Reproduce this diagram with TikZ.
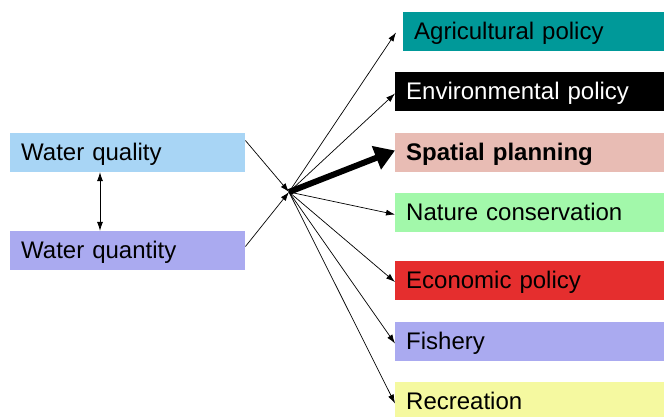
\documentclass[tikz,border=0pt]{standalone}
\usepackage{fontspec}
\setmainfont{Liberation Sans}
\usetikzlibrary{arrows.meta}

\definecolor{azulclaro}{RGB}{168,213,245}
\definecolor{lavanda}{RGB}{170,170,240}
\definecolor{verdeazul}{RGB}{0,153,153}
\definecolor{rosado}{RGB}{232,188,180}
\definecolor{verdeclaro}{RGB}{162,248,170}
\definecolor{rojo}{RGB}{229,46,46}
\definecolor{amarillo}{RGB}{245,249,160}

\tikzset{
  caja/.style={anchor=west, minimum height=39pt, inner xsep=11pt, inner ysep=0pt,
    text width=#1, align=left, text height=21pt, text depth=5pt,
    font=\fontsize{24}{28}\selectfont},
  flecha/.style={-{Latex[length=9pt,width=6pt]}, line width=0.7pt},
  doble/.style={{Latex[length=9pt,width=6pt]}-{Latex[length=9pt,width=6pt]}, line width=0.7pt}
}

\begin{document}
\begin{tikzpicture}[x=1pt,y=-1pt]

                    \useasboundingbox (0,0) rectangle (664,416);

                    % Cajas de la izquierda
                    \node[caja=213pt, fill=azulclaro] (calidad) at (10,152.5) {Water quality};
                    \node[caja=213pt, fill=lavanda] (cantidad) at (10,250.5) {Water quantity};

                    % Cajas de la derecha
                    \node[caja=239pt, fill=verdeazul] (agri) at (403,31.5) {Agricultural policy};
                    \node[caja=247pt, fill=black, text=white] (amb) at (395,91.5) {Environmental policy};
                    \node[caja=247pt, fill=rosado, font=\fontsize{24}{28}\selectfont\bfseries] (espacial) at (395,152.5) {Spatial planning};
                    \node[caja=247pt, fill=verdeclaro] (naturaleza) at (395,212.5) {Nature conservation};
                    \node[caja=247pt, fill=rojo] (economia) at (395,280) {Economic policy};
                    \node[caja=247pt, fill=lavanda] (pesca) at (395,341.5) {Fishery};
                    \node[caja=247pt, fill=amarillo] (recreo) at (395,401.5) {Recreation};

                    % Punto central
                    \coordinate (centro) at (289,192);

                    % Flechas hacia el centro
                    \draw[flecha] ([yshift=12pt]calidad.east) -- (centro);
                    \draw[flecha] ([yshift=4pt]cantidad.east) -- (centro);
                    \draw[doble] ([xshift=90pt]calidad.south west) -- ([xshift=90pt]cantidad.north west);

                    % Flechas hacia las politicas
                    \draw[flecha] (centro) -- ([xshift=-7pt,yshift=-1pt]agri.west);
                    \foreach \n in {amb,naturaleza,economia,pesca,recreo}
                      \draw[flecha] (centro) -- ([yshift=-2pt]\n.west);
                    \draw[line width=6pt, -{Triangle[length=20pt,width=24pt]}] (centro) -- ([yshift=2pt]espacial.west);

                    \end{tikzpicture}
\end{document}
